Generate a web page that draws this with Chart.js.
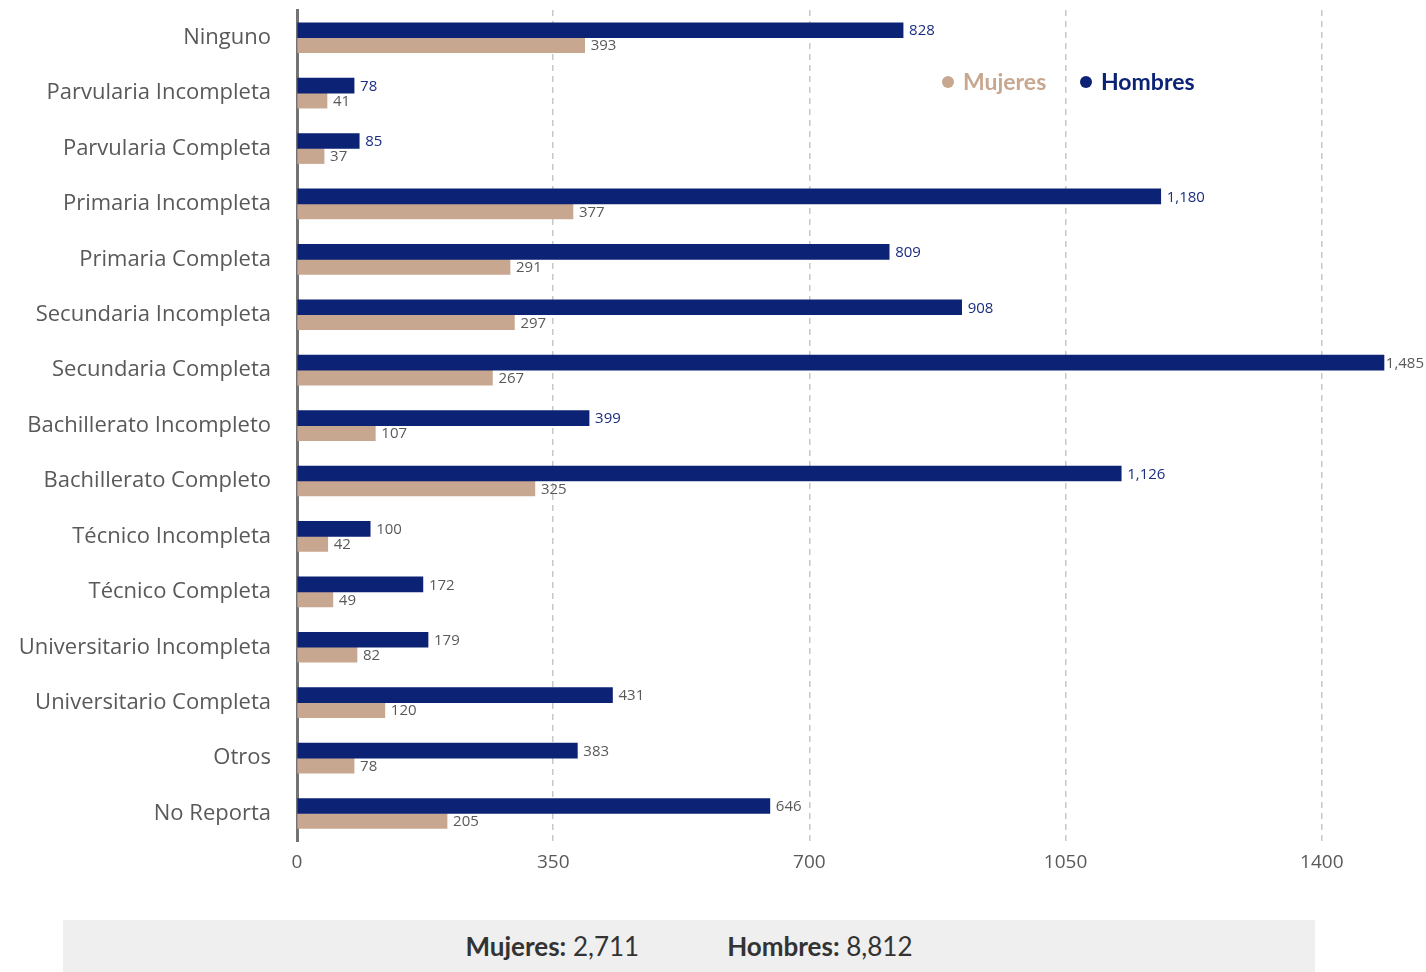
<!DOCTYPE html>
<html>
<head>
<meta charset="utf-8">
<script src="https://cdn.jsdelivr.net/npm/chart.js@4.4.1/dist/chart.umd.min.js"></script>
<style>
  html, body { margin: 0; padding: 0; background: #fff; }
  body { width: 1426px; height: 972px; position: relative; overflow: hidden; font-family: Lato, "Open Sans", sans-serif; }
  #wrap { position: absolute; left: 0; top: 0; width: 1426px; height: 900px; }
  .legend { position: absolute; top: 67px; font-weight: bold; font-size: 23px; white-space: nowrap; }
  .legend span.dot { display: inline-block; width: 12px; height: 12px; border-radius: 50%; margin-right: 9px; vertical-align: 2px; }
  #footer { position: absolute; left: 63px; top: 920px; width: 1252px; height: 52px; background: #efefef;
            text-align: center; line-height: 52px; font-size: 26px; color: #333; }
  #footer b { font-weight: bold; }
</style>
</head>
<body>
<div id="wrap"><canvas id="chart"></canvas></div>
<div class="legend" style="left:942px;color:#c8a790"><span class="dot" style="background:#c8a790"></span>Mujeres</div>
<div class="legend" style="left:1080px;color:#0c2274"><span class="dot" style="background:#0c2274"></span>Hombres</div>
<div id="footer"><b>Mujeres:</b> 2,711<span style="display:inline-block;width:88px"></span><b>Hombres:</b> 8,812</div>
<script>
// datos
const categorias = [
    "Ninguno", "Parvularia Incompleta", "Parvularia Completa", "Primaria Incompleta",
    "Primaria Completa", "Secundaria Incompleta", "Secundaria Completa", "Bachillerato Incompleto",
    "Bachillerato Completo", "Técnico Incompleta", "Técnico Completa", "Universitario Incompleta",
    "Universitario Completa", "Otros", "No Reporta"
];
const hombres = [828, 78, 85, 1180, 809, 908, 1485, 399, 1126, 100, 172, 179, 431, 383, 646];
const mujeres = [393, 41, 37, 377, 291, 297, 267, 107, 325, 42, 49, 82, 120, 78, 205];
const ticksX = [0, 350, 700, 1050, 1400];

const NAVY = "#0c2274";
const TAN = "#c8a790";
// color de la etiqueta de hombres (azul en las primeras, gris en las demás)
const etiquetaAzul = [true, true, true, true, true, true, false, true, true, false, false, false, false, false, false];

const fmt = v => v.toLocaleString("en-US");

const etiquetasPlugin = {
    id: "etiquetas",
    afterDatasetsDraw(chart) {
        const ctx = chart.ctx;
        ctx.save();
        ctx.font = "15px 'Open Sans', sans-serif";
        ctx.textBaseline = "middle";
        ctx.textAlign = "left";
        chart.data.datasets.forEach((ds, di) => {
            const meta = chart.getDatasetMeta(di);
            meta.data.forEach((bar, i) => {
                const txt = fmt(ds.data[i]);
                const w = ctx.measureText(txt).width;
                let x = bar.x + 6;
                if (x + w > chart.width - 2) x = chart.width - 2 - w;
                if (di === 0 && etiquetaAzul[i]) ctx.fillStyle = "#1a2d80";
                else ctx.fillStyle = "#595959";
                ctx.fillText(txt, x, bar.y + 1);
            });
        });
        ctx.restore();
    }
};

new Chart(document.getElementById("chart"), {
    type: "bar",
    data: {
        labels: categorias,
        datasets: [
            {
                label: "Hombres",
                data: hombres,
                backgroundColor: NAVY,
                barThickness: 15,
                categoryPercentage: 0.6,
                clip: false
            },
            {
                label: "Mujeres",
                data: mujeres,
                backgroundColor: TAN,
                barThickness: 15,
                categoryPercentage: 0.6,
                clip: false
            }
        ]
    },
    options: {
        indexAxis: "y",
        responsive: true,
        maintainAspectRatio: false,
        animation: false,
        layout: { padding: { top: 10, right: 42, bottom: 16, left: 0 } },
        plugins: {
            legend: { display: false },
            tooltip: { enabled: false }
        },
        scales: {
            x: {
                min: 0,
                max: 1485,
                afterBuildTicks: scale => { scale.ticks = ticksX.map(v => ({ value: v })); },
                grid: {
                    drawTicks: false,
                    color: c => c.tick && c.tick.value === 0 ? "rgba(0,0,0,0)" : "#c8c8c8",
                    lineWidth: 1.5
                },
                border: { display: false, dash: [6, 5] },
                ticks: {
                    padding: 10,
                    color: "#595959",
                    callback: v => String(v),
                    font: { family: "'Open Sans', sans-serif", size: 19 }
                }
            },
            y: {
                afterFit: scale => {
                    scale.width = 297;
                    scale.paddingTop = 0;
                    scale.paddingBottom = 0;
                },
                grid: { display: false, drawTicks: false },
                border: { display: true, color: "#737373", width: 3 },
                ticks: {
                    padding: 26,
                    color: "#595959",
                    font: { family: "'Open Sans', sans-serif", size: 22 }
                }
            }
        }
    },
    plugins: [etiquetasPlugin]
});
</script>
</body>
</html>
